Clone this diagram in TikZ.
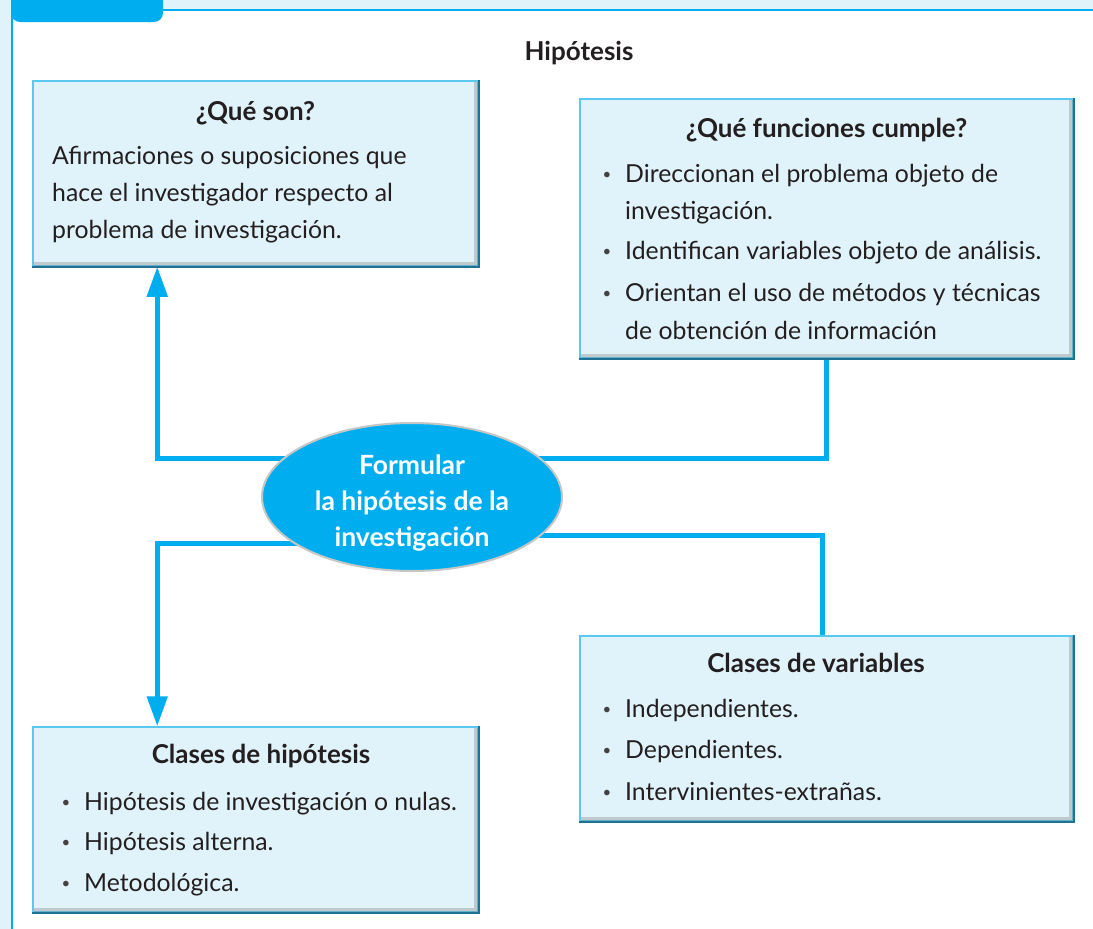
\documentclass[tikz,border=0pt]{standalone}
\usepackage{fontspec}
\setmainfont{Lato}
\usetikzlibrary{arrows.meta,shapes.geometric}

\definecolor{hcyan}{HTML}{00AEEF}
\definecolor{pagebg}{HTML}{E0F2FA}
\definecolor{boxfill}{HTML}{E1F3FA}
\definecolor{boxline}{HTML}{5BC8F0}
\definecolor{boxdark}{HTML}{1F7294}
\definecolor{ink}{HTML}{231F20}

\pgfdeclarelayer{page}
\pgfdeclarelayer{links}
\pgfsetlayers{page,links,main}

\tikzset{
  box/.style={rectangle, draw=boxline, line width=1.5pt, fill=boxfill, inner sep=0pt},
  boxedge/.style={boxdark, line width=2pt},
  boxshade/.style={gray, opacity=0.35, line width=4pt},
  link/.style={hcyan, line width=5pt},
  linkarrow/.style={link, -{Triangle[width=20pt,length=30pt]}},
  txt/.style={anchor=base west, inner sep=0pt, text=ink, font=\fontsize{24.8}{30}\selectfont},
  head/.style={anchor=base, inner sep=0pt, text=ink, font=\bfseries\fontsize{26}{31}\selectfont},
  dot/.style={anchor=base, inner sep=0pt, yshift=2.5pt, text=ink!85, font=\fontsize{15}{16}\selectfont}
}

\begin{document}
\begin{tikzpicture}[x=1pt,y=-1pt]
        \useasboundingbox (0,0) rectangle (1093,929);

        % page frame
        \begin{pgfonlayer}{page}
        \fill[pagebg] (0,0) rectangle (1093,929);
        \fill[white] (12,10) rectangle (1093,929);
        \draw[hcyan, line width=2.5pt] (12,929) -- (12,10) -- (1093,10);
        \fill[hcyan, rounded corners=9pt] (11,-12) rectangle (163,22);
        \end{pgfonlayer}

        % title
        \node[head] (title) at (579,60) {Hipótesis};

        % boxes
        \node[box, minimum width=445pt, minimum height=185pt] (qs) at (255.5,173.5) {};
        \node[box, minimum width=493pt, minimum height=259pt] (qf) at (826.5,228.5) {};
        \node[box, minimum width=493pt, minimum height=185pt] (cv) at (826.5,728.5) {};
        \node[box, minimum width=445pt, minimum height=185pt] (ch) at (255.5,819.5) {};

        % shadow edges
        \foreach \b in {qs,qf,cv,ch}{
          \draw[boxshade] ([xshift=2pt,yshift=3pt]\b.south west) -- ([xshift=-3pt,yshift=3pt]\b.south east) -- ([xshift=-3pt,yshift=-2pt]\b.north east);
          \draw[boxedge] (\b.south west) -- (\b.south east) -- (\b.north east);
        }

        % center ellipse
        \node[ellipse, fill=hcyan, draw=gray!45, line width=2pt, minimum width=300pt, minimum height=148pt, inner sep=0pt] (ell) at (412,497) {};
        \node[text=white, align=center, inner sep=0pt, font=\bfseries\fontsize{26.5}{36}\selectfont] (ell-t) at ([yshift=-6pt]ell.center) {Formular\\la hipótesis de la\\investigación};

        % connectors
        \begin{pgfonlayer}{links}
        \draw[linkarrow] ([yshift=39pt]ell.center) -| ([xshift=125pt]qs.south west);
        \draw[link] ([yshift=39pt]ell.center) -| ([xshift=247pt]qf.south west);
        \draw[linkarrow] ([yshift=-46pt]ell.center) -| ([xshift=125pt]ch.north west);
        \draw[link] ([yshift=-38pt]ell.center) -| ([xshift=243pt]cv.north west);
        \end{pgfonlayer}

        % que son
        \node[head] (qs-t) at (255.5,120) {¿Qué son?};
        \node[txt] (qs-1) at (52,164) {Afirmaciones o suposiciones que};
        \node[txt] (qs-2) at (52,201) {hace el investigador respecto al};
        \node[txt] (qs-3) at (52,238) {problema de investigación.};

        % que funciones cumple
        \node[head] (qf-t) at (826.5,137) {¿Qué funciones cumple?};
        \node[dot] (qf-b1) at (607,182) {•};
        \node[txt] (qf-1) at (625,182) {Direccionan el problema objeto de};
        \node[txt] (qf-1b) at (625,219) {investigación.};
        \node[dot] (qf-b2) at (607,259) {•};
        \node[txt] (qf-2) at (625,259) {Identifican variables objeto de análisis.};
        \node[dot] (qf-b3) at (607,301) {•};
        \node[txt] (qf-3) at (625,301) {Orientan el uso de métodos y técnicas};
        \node[txt] (qf-3b) at (625,339) {de obtención de información};

        % clases de variables
        \node[head] (cv-t) at (816,672) {Clases de variables};
        \node[dot] (cv-b1) at (607,717) {•};
        \node[txt] (cv-1) at (625,717) {Independientes.};
        \node[dot] (cv-b2) at (607,758) {•};
        \node[txt] (cv-2) at (625,758) {Dependientes.};
        \node[dot] (cv-b3) at (607,800) {•};
        \node[txt] (cv-3) at (625,800) {Intervinientes-extrañas.};

        % clases de hipotesis
        \node[head] (ch-t) at (261,763) {Clases de hipótesis};
        \node[dot] (ch-b1) at (66,810) {•};
        \node[txt] (ch-1) at (84,810) {Hipótesis de investigación o nulas.};
        \node[dot] (ch-b2) at (66,850) {•};
        \node[txt] (ch-2) at (84,850) {Hipótesis alterna.};
        \node[dot] (ch-b3) at (66,891) {•};
        \node[txt] (ch-3) at (84,891) {Metodológica.};
\end{tikzpicture}
\end{document}
